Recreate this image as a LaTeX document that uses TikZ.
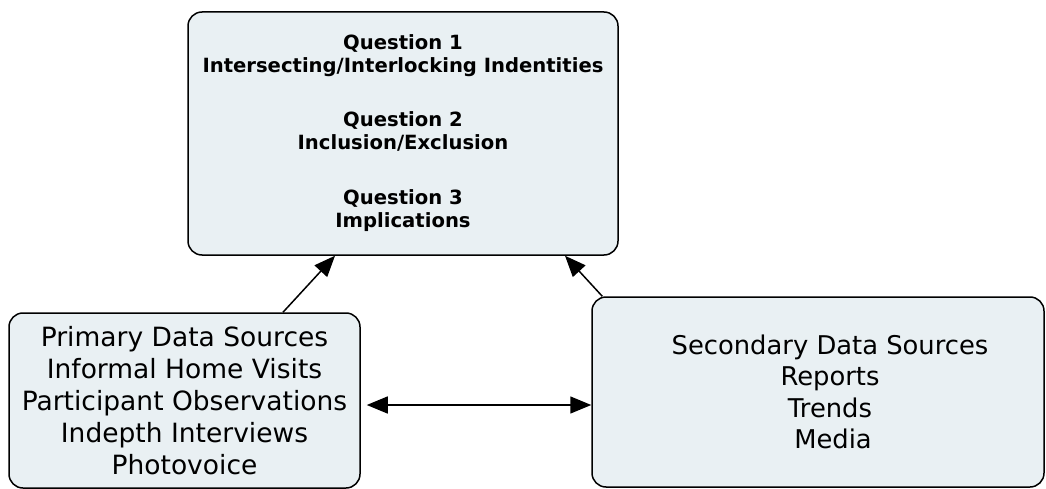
\documentclass[tikz,border=0pt]{standalone}
\usepackage{fontspec}
\setmainfont{DejaVu Sans}
\usetikzlibrary{arrows.meta}
\definecolor{boxfill}{RGB}{233,240,243}

\begin{document}
\begin{tikzpicture}[x=1pt,y=-1pt,
    box/.style={draw,line width=1.5pt,rounded corners=14pt,fill=boxfill,align=center,inner sep=0pt},
    arr/.style={line width=1.5pt,-{Triangle[length=21pt,width=17pt]}},
    darr/.style={line width=1.5pt,{Triangle[length=21pt,width=17pt]}-{Triangle[length=21pt,width=17pt]}}]
   \useasboundingbox (0,0) rectangle (1046,489);

   \node[box,minimum width=430pt,minimum height=243pt,font=\bfseries\fontsize{19.6}{23}\selectfont] (questions) at (403,133.5)
     {Question 1\\Intersecting/Interlocking Indentities\\[31pt]
      Question 2\\Inclusion/Exclusion\\[32pt]
      Question 3\\Implications};

   \node[box,minimum width=351pt,minimum height=175pt,font=\fontsize{26.5}{32}\selectfont] (primary) at (184.5,400.5)
     {Primary Data Sources\\Informal Home Visits\\Participant Observations\\Indepth Interviews\\Photovoice};

   \node[box,minimum width=452pt,minimum height=190pt,font=\fontsize{25.8}{31.5}\selectfont] (secondary) at (818,392)
     {\hspace*{24pt}Secondary Data Sources\\\hspace*{24pt}Reports\\\hspace*{24pt}Trends\\\hspace*{30pt}Media};

   \draw[arr] ([xshift=98.5pt]primary.north) -- ([xshift=-68pt]questions.south);
   \draw[arr] ([xshift=11pt]secondary.north west) -- ([xshift=162pt]questions.south);
   \draw[darr] ([xshift=6pt,yshift=-4.5pt]primary.east) -- (secondary.west |- 0,405);
\end{tikzpicture}
\end{document}
